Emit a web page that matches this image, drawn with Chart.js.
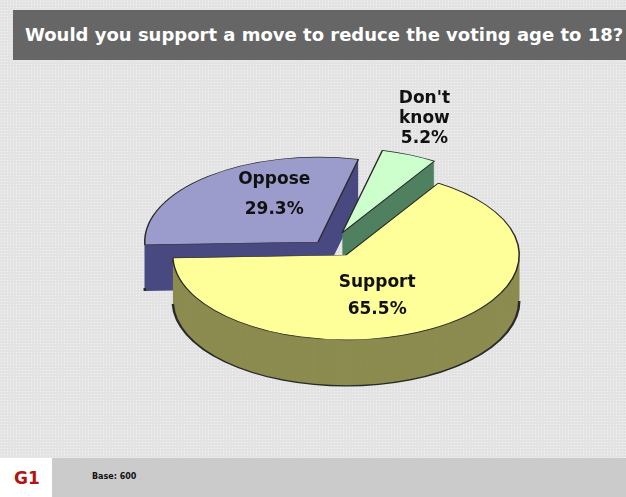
<!DOCTYPE html>
<html>
<head>
<meta charset="utf-8">
<script src="https://cdn.jsdelivr.net/npm/chart.js@4/dist/chart.umd.min.js"></script>
<style>
  html, body { margin: 0; padding: 0; }
  #wrap {
    position: relative; width: 626px; height: 497px; overflow: hidden;
    background-color: #e3e3e3;
    background-image: radial-gradient(#f3f3f3 0.8px, transparent 0.9px);
    background-size: 3px 3px;
    font-family: "DejaVu Sans", sans-serif;
  }
  #pie { position: absolute; left: 0; top: 0; }
  #title {
    position: absolute; left: 13px; top: 10px; width: 601px; height: 50px;
    padding-left: 12px; background: #666; color: #fff;
    font-weight: bold; font-size: 18px; line-height: 50px; white-space: nowrap;
  }
  #foot { position: absolute; left: 0; top: 458px; width: 626px; height: 39px; background: #fff; }
  #foot .code {
    position: absolute; left: 14px; top: 10px; color: #b01414;
    font-weight: bold; font-size: 17px;
  }
  #foot .band { position: absolute; left: 52px; top: 0; right: 0; bottom: 0; background: #cbcbcb; }
  #foot .base { position: absolute; left: 40px; top: 14px; font-size: 8px; font-weight: bold; color: #111; }
</style>
</head>
<body>
<div id="wrap">
  <canvas id="pie" width="626" height="497"></canvas>
  <div id="title">Would you support a move to reduce the voting age to 18?</div>
  <div id="foot">
    <span class="code">G1</span>
    <div class="band"><span class="base">Base: 600</span></div>
  </div>
</div>
<script>
// answers, in drawing order (back slices first)
const categories = ['Oppose', "Don't know", 'Support'];
const shares = [29.3, 5.2, 65.5];

const topColors = ['#9c9ccc', '#ccffcc', '#ffff99'];
const sideColors = ['#4a4a82', '#4f8060', '#8c8c50'];
// screen-space pull-out of each slice (x, y)
const pullOut = [[-28, -13], [-4, -22], [0, 0]];
const TILT = 0.49;
const DEPTH = 46;
// label placement: fraction of radius along the slice middle, nudge, line height
const labelPos = [
    { f: 0.6, dx: 22, dy: -8, lh: 30 },
    { f: 1.3, dx: -5, dy: -13, lh: 20 },
    { f: 0.5, dx: -12, dy: 4, lh: 27 }
];

function slicePath(ctx, arc, drop) {
    ctx.beginPath();
    ctx.moveTo(arc.x, arc.y + drop);
    ctx.arc(arc.x, arc.y + drop, arc.outerRadius, arc.startAngle, arc.endAngle);
    ctx.closePath();
}

// outline only the front (visible) part of the bottom rim
function strokeFrontRim(ctx, arc, drop) {
    for (let k = -1; k <= 2; k++) {
        const a = Math.max(arc.startAngle, k * 2 * Math.PI);
        const b = Math.min(arc.endAngle, k * 2 * Math.PI + Math.PI);
        if (b - a > 0.001) {
            ctx.beginPath();
            ctx.arc(arc.x, arc.y + drop, arc.outerRadius, a, b);
            ctx.stroke();
        }
    }
}

const pie3d = {
    id: 'pie3d',
    beforeDatasetsDraw(chart) {
        const ctx = chart.ctx;
        const arcs = chart.getDatasetMeta(0).data;
        const cy = arcs[0].y;
        const d = DEPTH / TILT;
        ctx.save();
        ctx.translate(0, cy);
        ctx.scale(1, TILT);
        ctx.translate(0, -cy);
        arcs.forEach((arc, i) => {
            ctx.save();
            ctx.translate(pullOut[i][0], pullOut[i][1] / TILT);
            ctx.fillStyle = sideColors[i];
            for (let k = d; k > 0; k -= 1.5) {
                slicePath(ctx, arc, k);
                ctx.fill();
            }
            ctx.strokeStyle = '#2a2a2a';
            ctx.lineWidth = 2.5;
            strokeFrontRim(ctx, arc, d);
            arc.draw(ctx);
            ctx.restore();
        });
        ctx.restore();
        return false;
    },
    afterDraw(chart) {
        const ctx = chart.ctx;
        const arcs = chart.getDatasetMeta(0).data;
        ctx.save();
        ctx.fillStyle = '#111';
        ctx.font = 'bold 17px "DejaVu Sans"';
        ctx.textAlign = 'center';
        ctx.textBaseline = 'middle';
        arcs.forEach((arc, i) => {
            const mid = (arc.startAngle + arc.endAngle) / 2;
            const p = labelPos[i];
            const r = arc.outerRadius * p.f;
            const x = arc.x + pullOut[i][0] + Math.cos(mid) * r + p.dx;
            const y = arc.y + pullOut[i][1] + Math.sin(mid) * r * TILT + p.dy;
            const lines = categories[i].split(' ').concat([shares[i].toFixed(1) + '%']);
            const top = y - (lines.length - 1) * p.lh / 2;
            lines.forEach((t, j) => ctx.fillText(t, x, top + j * p.lh));
        });
        ctx.restore();
    }
};

new Chart(document.getElementById('pie'), {
    type: 'pie',
    data: {
        labels: categories,
        datasets: [{
            data: shares,
            backgroundColor: topColors,
            borderColor: '#2a2a2a',
            borderWidth: 1.5
        }]
    },
    options: {
        responsive: false,
        animation: false,
        devicePixelRatio: 1,
        rotation: 268,
        layout: { padding: { left: 172, right: 106, top: 81, bottom: 68 } },
        plugins: { legend: { display: false }, tooltip: { enabled: false } },
        events: []
    },
    plugins: [pie3d]
});
</script>
</body>
</html>
